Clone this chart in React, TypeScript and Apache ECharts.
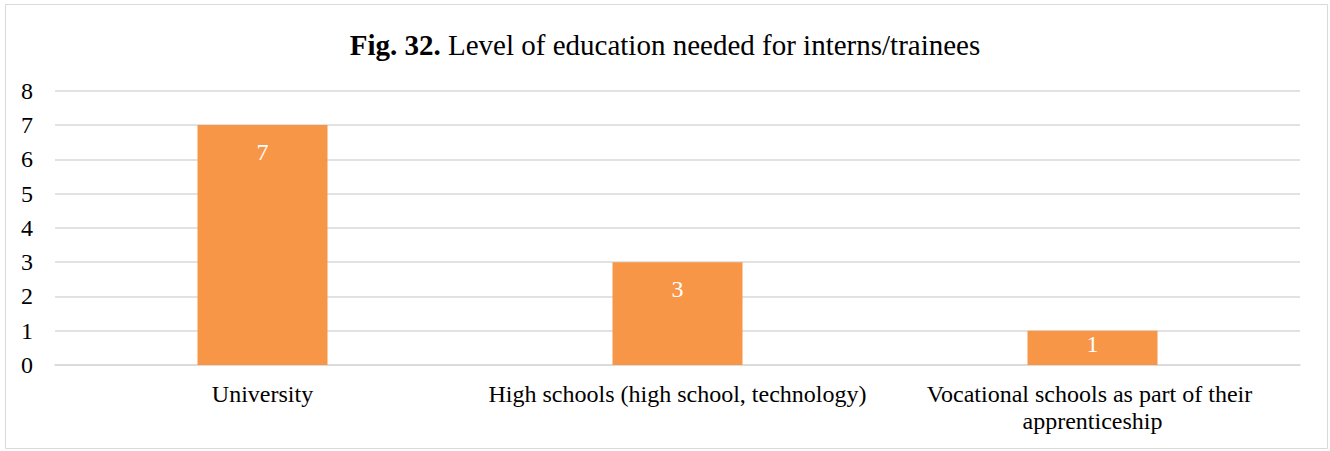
import React, { useEffect, useRef } from "react";
import * as echarts from "echarts";

const categories = [
  "University",
  "High schools (high school, technology)",
  "Vocational schools as part of their apprenticeship",
];
const values = [7, 3, 1];
const yTicks = [0, 1, 2, 3, 4, 5, 6, 7, 8];

const FONT = "'Liberation Serif', 'Times New Roman', serif";

export default function App() {
  const ref = useRef<HTMLDivElement>(null);
  useEffect(() => {
    document.body.style.margin = "0";
    if (!ref.current) return;
    const chart = echarts.init(ref.current, null, { renderer: "svg" });
    chart.setOption({
      animation: false,
      backgroundColor: "#ffffff",
      graphic: [
        {
          type: "rect",
          shape: { x: 5.5, y: 4.5, width: 1322, height: 444 },
          style: { fill: "none", stroke: "#d9d9d9", lineWidth: 1 },
          silent: true,
        },
      ],
      title: {
        text: "{b|Fig. 32.} Level of education needed for interns/trainees",
        left: "center",
        top: 25,
        textStyle: {
          fontFamily: FONT,
          fontSize: 29,
          fontWeight: "normal",
          color: "#000000",
          rich: {
            b: { fontFamily: FONT, fontSize: 29, fontWeight: "bold", color: "#000000" },
          },
        },
      },
      grid: {
        left: 55,
        right: 30,
        top: 90.7,
        bottom: 86,
        containLabel: false,
        outerBoundsMode: "none",
      },
      xAxis: {
        type: "category",
        data: categories,
        axisTick: { show: false },
        axisLine: { show: true, lineStyle: { color: "#d9d9d9", width: 1.5 } },
        axisLabel: {
          interval: 0,
          margin: 15,
          width: 400,
          overflow: "break",
          lineHeight: 27,
          fontFamily: FONT,
          fontSize: 24,
          color: "#000000",
        },
      },
      yAxis: {
        type: "value",
        min: yTicks[0],
        max: yTicks[yTicks.length - 1],
        interval: 1,
        axisLine: { show: false },
        axisTick: { show: false },
        splitLine: { lineStyle: { color: "#d9d9d9", width: 1.5 } },
        axisLabel: {
          margin: 22,
          fontFamily: FONT,
          fontSize: 24,
          color: "#000000",
        },
      },
      series: [
        {
          type: "bar",
          data: values.map((v) => ({
            value: v,
            label: { distance: v >= 2 ? 15 : 1 },
          })),
          barWidth: 130,
          itemStyle: { color: "#F79646" },
          label: {
            show: true,
            position: "insideTop",
            fontFamily: FONT,
            fontSize: 24,
            color: "#ffffff",
          },
        },
      ],
    });
    return () => chart.dispose();
  }, []);
  return <div ref={ref} style={{ width: 1330, height: 451 }} />;
}
